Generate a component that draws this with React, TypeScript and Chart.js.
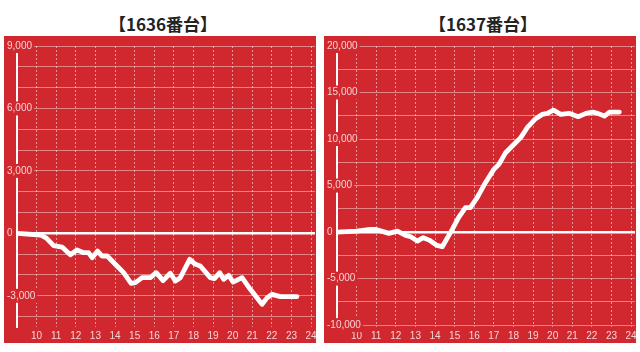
import React, { useEffect, useRef } from 'react';
import { Chart, registerables } from 'chart.js';

Chart.register(...registerables);

// ---- data ----
const HOURS_1636 = [9.0, 10.2, 10.5, 10.87, 11.3, 11.72, 12.06, 12.4, 12.65, 12.83, 13.11, 13.34, 13.6, 14.1, 14.44, 14.82, 15.04, 15.38, 15.8, 16.1, 16.45, 16.82, 17.08, 17.33, 17.81, 18.1, 18.35, 18.86, 19.07, 19.34, 19.54, 19.8, 20.02, 20.48, 20.9, 21.5, 21.76, 22.01, 22.43, 23.28];
const VALUES_1636 = [0, -80, -230, -590, -660, -1030, -800, -930, -930, -1170, -850, -1090, -1090, -1570, -1890, -2400, -2370, -2130, -2130, -1890, -2270, -1920, -2290, -2130, -1250, -1490, -1570, -2130, -2180, -1890, -2210, -2020, -2340, -2130, -2690, -3410, -3090, -2930, -3040, -3040];

const HOURS_1637 = [9.0, 10.0, 10.7, 10.96, 11.65, 12.08, 12.5, 12.77, 13.1, 13.4, 13.7, 14.1, 14.37, 14.88, 15.2, 15.55, 15.8, 16.15, 16.57, 17.0, 17.26, 17.6, 17.94, 18.37, 18.7, 19.13, 19.47, 19.73, 20.04, 20.41, 20.84, 21.3, 21.7, 22.04, 22.3, 22.64, 22.9, 23.4];
const VALUES_1637 = [0, 100, 290, 290, -140, 110, -350, -500, -970, -600, -860, -1430, -1570, 290, 1550, 2620, 2620, 3700, 5310, 6740, 7280, 8535, 9250, 10150, 11220, 12190, 12650, 12760, 13115, 12650, 12760, 12400, 12760, 12900, 12760, 12470, 12900, 12900];

const X_TICKS = [10, 11, 12, 13, 14, 15, 16, 17, 18, 19, 20, 21, 22, 23, 24];
const Y_TICKS_1636 = [-4000, -3000, -2000, -1000, 0, 1000, 2000, 3000, 4000, 5000, 6000, 7000, 8000, 9000];
const Y_LABELS_1636 = [9000, 6000, 3000, 0, -3000];
const Y_TICKS_1637 = [-10000, -7500, -5000, -2500, 0, 2500, 5000, 7500, 10000, 12500, 15000, 17500, 20000];
const Y_LABELS_1637 = [20000, 15000, 10000, 5000, 0, -5000, -10000];

const RED = '#d0282e';
const LABEL_COLOR = 'rgba(255,255,255,0.8)';
const FONT = { family: "'Liberation Sans', Arial, sans-serif", size: 10 };

type PanelProps = {
  title: string;
  left: number;
  hours: number[];
  values: number[];
  yMin: number;
  yMax: number;
  yTicks: number[];
  yLabels: number[];
};

function Panel({ title, left, hours, values, yMin, yMax, yTicks, yLabels }: PanelProps) {
  const ref = useRef<HTMLCanvasElement>(null);
  useEffect(() => {
    const chart = new Chart(ref.current as HTMLCanvasElement, {
      type: 'line',
      data: {
        datasets: [
          {
            data: hours.map((h, i) => ({ x: h, y: values[i] })),
            borderColor: '#ffffff',
            borderWidth: 4.8,
            pointRadius: 0,
            tension: 0,
            borderJoinStyle: 'round',
            borderCapStyle: 'round',
            fill: false,
          },
        ],
      },
      options: {
        animation: false,
        responsive: false,
        maintainAspectRatio: false,
        layout: { padding: { left: 3, top: 10, right: 1, bottom: 0 } },
        plugins: {
          legend: { display: false },
          tooltip: { enabled: false },
          title: { display: false },
        },
        scales: {
          x: {
            type: 'linear',
            min: 9,
            max: 24.2,
            afterBuildTicks: (s: any) => {
              s.ticks = X_TICKS.map((v) => ({ value: v }));
            },
            afterFit: (s: any) => {
              s.height = 16;
              s.paddingLeft = 0;
              s.paddingRight = 0;
            },
            grid: { color: 'rgba(255,255,255,0.5)', lineWidth: 1, drawTicks: false },
            border: { display: false, dash: [2, 2] },
            ticks: {
              color: LABEL_COLOR,
              font: FONT,
              padding: 3,
              maxRotation: 0,
              autoSkip: false,
              callback: (v: any) => String(v),
            },
          },
          y: {
            type: 'linear',
            min: yMin,
            max: yMax,
            afterBuildTicks: (s: any) => {
              s.ticks = yTicks.map((v) => ({ value: v }));
            },
            afterFit: (s: any) => {
              s.width = 10;
              s.paddingTop = 0;
              s.paddingBottom = 0;
            },
            grid: {
              color: (c: any) => (c.tick && c.tick.value === 0 ? '#ffffff' : 'rgba(255,255,255,0.42)'),
              lineWidth: (c: any) => (c.tick && c.tick.value === 0 ? 2.5 : 1),
              drawTicks: false,
            },
            border: { display: true, color: '#ffffff', width: 2 },
            ticks: {
              color: LABEL_COLOR,
              font: FONT,
              mirror: true,
              crossAlign: 'near',
              padding: -10,
              autoSkip: false,
              showLabelBackdrop: true,
              backdropColor: RED,
              backdropPadding: { top: 1, bottom: 1, left: 0, right: 2 },
              callback: (v: any) => (yLabels.includes(Number(v)) ? Number(v).toLocaleString('en-US') : ''),
            },
          },
        },
      } as any,
    });
    return () => chart.destroy();
  }, []);

  return (
    <>
      <div
        style={{
          position: 'absolute',
          left: left + 3,
          top: 15,
          width: 312,
          textAlign: 'center',
          font: "bold 17px 'Noto Sans CJK JP', sans-serif",
          lineHeight: '17px',
          color: '#222',
        }}
      >
        {title}
      </div>
      <canvas
        ref={ref}
        width={312}
        height={307}
        style={{ position: 'absolute', left, top: 36, width: 312, height: 307, background: RED }}
      />
    </>
  );
}

export default function App() {
  return (
    <div
      style={{
        position: 'fixed',
        left: 0,
        top: 0,
        width: 640,
        height: 352,
        background: '#ffffff',
        overflow: 'hidden',
      }}
    >
      <Panel
        title="【1636番台】"
        left={4}
        hours={HOURS_1636}
        values={VALUES_1636}
        yMin={-4500}
        yMax={9000}
        yTicks={Y_TICKS_1636}
        yLabels={Y_LABELS_1636}
      />
      <Panel
        title="【1637番台】"
        left={324}
        hours={HOURS_1637}
        values={VALUES_1637}
        yMin={-10200}
        yMax={20000}
        yTicks={Y_TICKS_1637}
        yLabels={Y_LABELS_1637}
      />
    </div>
  );
}
